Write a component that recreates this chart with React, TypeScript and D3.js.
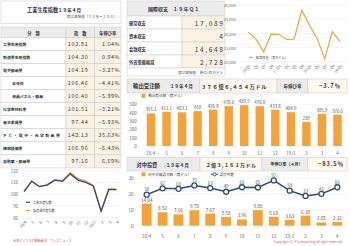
import React from 'react';
import * as d3 from 'd3';

const W = 350;
const H = 246;
const FONT = '"Noto Sans CJK JP", "Noto Sans", sans-serif';
const NAVY = '#2f4a7c';
const ORANGE = '#f3a33a';
const PEACH = '#fdf3e4';
const GRAY = '#ececec';
const LINE = '#cfcfcf';
const TXT = '#333';
const TICK = '#666';
const RED = '#d9534f';

// 工業生産指数 table
const ipCategories = ['工業生産指数', '製造業生産指数', '電子部品業', '半導体', '液晶パネル・部品', '化学原材料業', '基本金属業', 'ＰＣ・電子・光学製品業', '機械設備業', '自動車・部品業'];
const ipIndent = [false, false, false, true, true, false, false, false, false, false];
const ipIndex = ['103.81', '104.30', '104.19', '106.46', '100.40', '101.51', '97.44', '142.13', '106.96', '97.16'];
const ipGrowth = ['1.04%', '0.94%', '−3.27%', '−4.41%', '−5.99%', '−3.21%', '−5.93%', '35.63%', '−6.43%', '6.69%'];

// monthly series
const months = ['18/4', '5', '6', '7', '8', '9', '10', '11', '12', '19/1', '2', '3', '4'];
const ipTotal = [102.2, 111, 106.4, 107.8, 112, 111, 117.3, 112, 110, 107, 85.5, 104, 103.81];
const ipMfg = [102.5, 111.3, 106.7, 108.1, 112.4, 111.4, 118.6, 113.2, 111.3, 107.5, 85.6, 104.4, 104.3];

// 国際収支
const bopItems = ['経常収支', '資本収支', '金融収支', '外貨準備増減'];
const bopValues = ['17,089', '4', '14,648', '2,728'];
const quarters = ['16/Q1', 'Q2', 'Q3', 'Q4', '17/Q1', 'Q2', 'Q3', 'Q4', '18/Q1', 'Q2', 'Q3', 'Q4', '19/Q1'];
const currentAccount = [20500, 18000, 13500, 19800, 19700, 17900, 18000, 28200, 23000, 18300, 11000, 20700, 17089];

// 輸出受注額
const exportOrders = [391.1, 411.1, 403.1, 418, 436.8, 478.6, 489.9, 476.8, 433.8, 404.9, 289, 385.9, 376.6];

// 対中投資
const fdiAmount = [14.04, 8.52, 7.16, 9.78, 7.67, 5.58, 3.96, 9.88, 5.68, 3.63, 6.39, 2.05, 2.32];
const fdiCases = [38, 62, 60, 73, 63, 49, 66, 65, 92, 53, 33, 41, 66];

const idx = (arr: any[]) => arr.map((_, i) => i);

const App = () => {
  // left table geometry
  const tX0 = 1;
  const tX1 = 121;
  const tC1 = 66;
  const tC2 = 94.5;
  const rowH = 13.04;
  const rowTop = (i: number) => 37.5 + i * rowH;

  // left line chart
  const ipX = d3.scalePoint<string>().domain(months).range([24, 116.5]);
  const ipY = d3.scaleLinear().domain([80, 120]).range([217.7, 170.7]);
  const ipLine = (vals: number[]) =>
    d3.line<number>().x((_, i) => ipX(months[i]) as number).y((d) => ipY(d))(vals) as string;

  // current account chart
  const caX = d3.scalePoint<string>().domain(idx(quarters).map(String)).range([248.3, 340]);
  const caY = d3.scaleLinear().domain([10000, 30000]).range([61.7, 5.3]);
  const caLine = d3.line<number>().x((_, i) => caX(String(i)) as number).y((d) => caY(d))(currentAccount) as string;

  // export chart
  const exX = d3.scalePoint<string>().domain(months).range([151, 337.5]);
  const exY = d3.scaleLinear().domain([0, 500]).range([146, 104.3]);
  const exW = exX.step() * 0.54;

  // fdi chart
  const fdX = d3.scalePoint<string>().domain(months).range([146.7, 337.3]);
  const fdY = d3.scaleLinear().domain([0, 30]).range([225.7, 178.3]);
  const csY = d3.scaleLinear().domain([-80, 100]).range([225.7, 178.3]);
  const fdW = fdX.step() * 0.62;
  const csLine = d3.line<number>().x((_, i) => fdX(months[i]) as number).y((d) => csY(d))(fdiCases) as string;

  const cell = (x0: number, x1: number, y0: number, y1: number, fill: string, key?: string) => (
    <rect key={key} x={x0} y={y0} width={x1 - x0} height={y1 - y0} fill={fill} stroke={LINE} strokeWidth={0.6} />
  );

  return (
    <svg width={W} height={H} style={{ position: 'absolute', left: 0, top: 0, background: '#fff' }} fontFamily={FONT}>
      {/* ---------- left table ---------- */}
      {cell(tX0, tX1, 1, 23.5, '#fff')}
      <text x={27} y={9.5} fontSize={5.2} fontWeight="bold" fill={TXT} dominantBaseline="central">工業生産指数</text>
      <text x={58} y={9.5} fontSize={4.6} fontWeight="bold" fill={TXT} dominantBaseline="central">１９年４月</text>
      <text x={117} y={16.8} fontSize={3.6} fill="#555" textAnchor="end" dominantBaseline="central">億は速報値（１５年＝１００）</text>

      {cell(tX0, tC1, 27, 37.5, GRAY)}
      {cell(tC1, tC2, 27, 37.5, GRAY)}
      {cell(tC2, tX1, 27, 37.5, GRAY)}
      <text x={(tX0 + tC1) / 2} y={32.5} fontSize={4.2} fontWeight="bold" fill={TXT} textAnchor="middle" dominantBaseline="central">分　類</text>
      <text x={(tC1 + tC2) / 2} y={32.5} fontSize={4.2} fontWeight="bold" fill={TXT} textAnchor="middle" dominantBaseline="central">指　数</text>
      <text x={(tC2 + tX1) / 2} y={32.5} fontSize={4.2} fontWeight="bold" fill={TXT} textAnchor="middle" dominantBaseline="central">年伸び率</text>

      {ipCategories.map((c, i) => (
        <g key={c}>
          {cell(tX0, tC1, rowTop(i), rowTop(i + 1), '#fff')}
          {cell(tC1, tC2, rowTop(i), rowTop(i + 1), PEACH)}
          {cell(tC2, tX1, rowTop(i), rowTop(i + 1), PEACH)}
          <text x={ipIndent[i] ? 12 : 3} y={rowTop(i) + rowH / 2} fontSize={3.9} fontWeight="bold" fill={TXT}
            letterSpacing={c.startsWith('ＰＣ') ? 1.4 : 0} dominantBaseline="central">{c}</text>
          <text x={88.5} y={rowTop(i) + rowH / 2} fontSize={5.4} fill={TXT} letterSpacing={0.7}
            textAnchor="end" dominantBaseline="central">{ipIndex[i]}</text>
          <text x={120} y={rowTop(i) + rowH / 2} fontSize={5.4} fill={TXT} letterSpacing={0.5}
            textAnchor="end" dominantBaseline="central">{ipGrowth[i]}</text>
        </g>
      ))}

      {/* ---------- left line chart ---------- */}
      {ipY.ticks(4).map((t) => (
        <g key={t}>
          <line x1={21} x2={119} y1={ipY(t)} y2={ipY(t)} stroke="#e6e6e6" strokeWidth={0.5} />
          <text x={18} y={ipY(t)} fontSize={4.3} fill={TICK} textAnchor="end" dominantBaseline="central">{t}</text>
        </g>
      ))}
      <path d={ipLine(ipMfg)} fill="none" stroke={ORANGE} strokeWidth={1.4} />
      <path d={ipLine(ipTotal)} fill="none" stroke={NAVY} strokeWidth={1.3} />
      {months.map((m) => (
        <text key={m} transform={`translate(${(ipX(m) as number) + 1.5},${221}) rotate(-45)`} fontSize={4}
          fill={TICK} textAnchor="end" dominantBaseline="central">{m}</text>
      ))}
      <line x1={26} x2={30} y1={202.3} y2={202.3} stroke={NAVY} strokeWidth={1.2} />
      <text x={33} y={202.3} fontSize={3.1} fill="#444" dominantBaseline="central">工業生産指数</text>
      <line x1={26} x2={30} y1={210.5} y2={210.5} stroke={ORANGE} strokeWidth={1.2} />
      <text x={33} y={210.5} fontSize={3.1} fill="#444" dominantBaseline="central">製造業生産指数</text>
      <text x={13} y={240} fontSize={3.1} fill={RED} dominantBaseline="central">台湾ビジネスの最新動向　ワイズニュース</text>

      {/* ---------- 国際収支 table ---------- */}
      {cell(127, 225, 1, 16, GRAY)}
      <text x={148} y={8.8} fontSize={5} fontWeight="bold" fill={TXT} dominantBaseline="central">国際収支</text>
      <text x={173} y={8.8} fontSize={4.6} fontWeight="bold" fill={TXT} letterSpacing={0.8} dominantBaseline="central">１９年Ｑ１</text>
      {bopItems.map((b, i) => {
        const y0 = 16 + i * 13;
        return (
          <g key={b}>
            {cell(127, 182, y0, y0 + 13, '#fff')}
            {cell(182, 225, y0, y0 + 13, PEACH)}
            <text x={129} y={y0 + 6.5} fontSize={4.2} fontWeight="bold" fill={TXT} dominantBaseline="central">{b}</text>
            <text x={224.5} y={y0 + 6.8} fontSize={6.6} fill={TXT} letterSpacing={1.6} textAnchor="end" dominantBaseline="central">{bopValues[i]}</text>
          </g>
        );
      })}
      {cell(127, 225, 68, 76, '#fff')}
      <text x={223} y={72} fontSize={3.6} fill="#555" textAnchor="end" dominantBaseline="central">億は速報値　単位=百万ドル</text>

      {/* ---------- current account chart ---------- */}
      {caY.ticks(4).map((t) => (
        <g key={t}>
          <line x1={240} x2={346} y1={caY(t)} y2={caY(t)} stroke="#ececec" strokeWidth={0.5} />
          <text x={236} y={caY(t)} fontSize={4} fill={TICK} textAnchor="end" dominantBaseline="central">{d3.format(',')(t)}</text>
        </g>
      ))}
      <path d={caLine} fill="none" stroke={ORANGE} strokeWidth={1.2} />
      {quarters.map((q, i) => (
        <text key={i} transform={`translate(${(caX(String(i)) as number) + 1.5},${65}) rotate(-45)`} fontSize={3.6}
          fill={TICK} textAnchor="end" dominantBaseline="central">{q}</text>
      ))}
      <line x1={249} x2={253} y1={57.3} y2={57.3} stroke={ORANGE} strokeWidth={1.2} />
      <text x={256} y={57.3} fontSize={3.2} fill="#444" dominantBaseline="central">経常収支（百万ドル）</text>

      {/* ---------- 輸出受注額 header ---------- */}
      {cell(127, 200, 79, 93, GRAY)}
      {cell(200, 277, 79, 93, '#fdf8f0')}
      {cell(277, 308, 79, 93, GRAY)}
      {cell(308, 347, 79, 93, '#fdf8f0')}
      <text x={133} y={86} fontSize={5.4} fontWeight="bold" fill={TXT} dominantBaseline="central">輸出受注額</text>
      <text x={170} y={86.3} fontSize={4.3} fontWeight="bold" fill={TXT} letterSpacing={0.3} dominantBaseline="central">１９年４月</text>
      <text x={234} y={86} fontSize={5.2} fontWeight="bold" fill={TXT} letterSpacing={0.6} textAnchor="middle" dominantBaseline="central">３７６億６,４５４万ドル</text>
      <text x={292.5} y={86} fontSize={4.5} fontWeight="bold" fill={TXT} textAnchor="middle" dominantBaseline="central">年伸び率</text>
      <text x={330} y={86} fontSize={5.6} fontWeight="bold" fill={TXT} letterSpacing={0.9} textAnchor="middle" dominantBaseline="central">−3.7％</text>

      {/* ---------- export bars ---------- */}
      <rect x={141.5} y={93.8} width={4} height={4} fill={ORANGE} />
      <text x={148.3} y={95.8} fontSize={3.6} fill="#444" dominantBaseline="central">輸出受注額（億ドル）</text>
      {exY.ticks(5).map((t) => (
        <g key={t}>
          <line x1={140} x2={346} y1={exY(t)} y2={exY(t)} stroke="#ececec" strokeWidth={0.5} />
          <text x={136.7} y={exY(t)} fontSize={4.5} fill={TICK} textAnchor="end" dominantBaseline="central">{t}</text>
        </g>
      ))}
      {exportOrders.map((v, i) => {
        const cx = exX(months[i]) as number;
        return (
          <g key={i}>
            <rect x={cx - exW / 2} y={exY(v)} width={exW} height={exY(0) - exY(v)} fill={ORANGE} />
            <text x={cx} y={exY(v) - 4} fontSize={4.4} fill="#555" textAnchor="middle" dominantBaseline="central">{String(v)}</text>
            <text x={cx} y={153.3} fontSize={4.5} fill={TICK} textAnchor="middle" dominantBaseline="central">{months[i]}</text>
          </g>
        );
      })}

      {/* ---------- 対中投資 header ---------- */}
      {cell(127, 200, 157.5, 171, GRAY)}
      {cell(200, 262, 157.5, 171, '#fdf8f0')}
      {cell(262, 308, 157.5, 171, GRAY)}
      {cell(308, 347, 157.5, 171, '#fdf8f0')}
      <text x={136.5} y={164.3} fontSize={5.2} fontWeight="bold" fill={TXT} dominantBaseline="central">対中投資</text>
      <text x={166} y={164.6} fontSize={4.3} fontWeight="bold" fill={TXT} letterSpacing={0.3} dominantBaseline="central">１９年４月</text>
      <text x={231} y={164.3} fontSize={5} fontWeight="bold" fill={TXT} letterSpacing={0.4} textAnchor="middle" dominantBaseline="central">２億３,１６１万ドル</text>
      <text x={286.5} y={164.3} fontSize={4} fontWeight="bold" fill={TXT} textAnchor="middle" dominantBaseline="central">年伸び率（４月）</text>
      <text x={331} y={164.3} fontSize={5.6} fontWeight="bold" fill={TXT} letterSpacing={0.9} textAnchor="middle" dominantBaseline="central">−83.5％</text>

      {/* ---------- fdi chart ---------- */}
      <rect x={141.5} y={172.3} width={4} height={4} fill={ORANGE} />
      <text x={148} y={174.3} fontSize={3.6} fill="#444" dominantBaseline="central">対中投資認可額（億ドル）</text>
      <line x1={211} x2={218} y1={174.3} y2={174.3} stroke={NAVY} strokeWidth={1} />
      <circle cx={214.5} cy={174.3} r={1.6} fill="#fff" stroke={NAVY} strokeWidth={0.9} />
      <text x={219.5} y={174.3} fontSize={3.6} fill="#444" dominantBaseline="central">認可件数</text>
      {fdY.ticks(3).map((t) => (
        <g key={t}>
          <line x1={137} x2={346} y1={fdY(t)} y2={fdY(t)} stroke="#ececec" strokeWidth={0.5} />
          <text x={133.5} y={fdY(t)} fontSize={4.6} fill={TICK} textAnchor="end" dominantBaseline="central">{t}</text>
        </g>
      ))}
      {fdiAmount.map((v, i) => {
        const cx = fdX(months[i]) as number;
        return (
          <g key={i}>
            <rect x={cx - fdW / 2} y={fdY(v)} width={fdW} height={fdY(0) - fdY(v)} fill={ORANGE} />
            <text x={cx} y={fdY(v) - 4} fontSize={4.6} fill="#555" textAnchor="middle" dominantBaseline="central">{d3.format('.2f')(v)}</text>
            <text x={cx} y={235.7} fontSize={4.5} fill={TICK} textAnchor="middle" dominantBaseline="central">{months[i]}</text>
          </g>
        );
      })}
      <path d={csLine} fill="none" stroke={NAVY} strokeWidth={1.5} />
      {fdiCases.map((v, i) => {
        const cx = fdX(months[i]) as number;
        return (
          <g key={i}>
            <circle cx={cx} cy={csY(v)} r={2.5} fill="#fff" stroke={NAVY} strokeWidth={1.3} />
            <text x={cx} y={csY(v) - 5.3} fontSize={4.4} fill="#555" textAnchor="middle" dominantBaseline="central">{v}</text>
          </g>
        );
      })}
      <text x={343} y={241.7} fontSize={3.3} fill={RED} textAnchor="end" dominantBaseline="central">Copyright (C) Y's consulting all right reserved.</text>
    </svg>
  );
};

export default App;
